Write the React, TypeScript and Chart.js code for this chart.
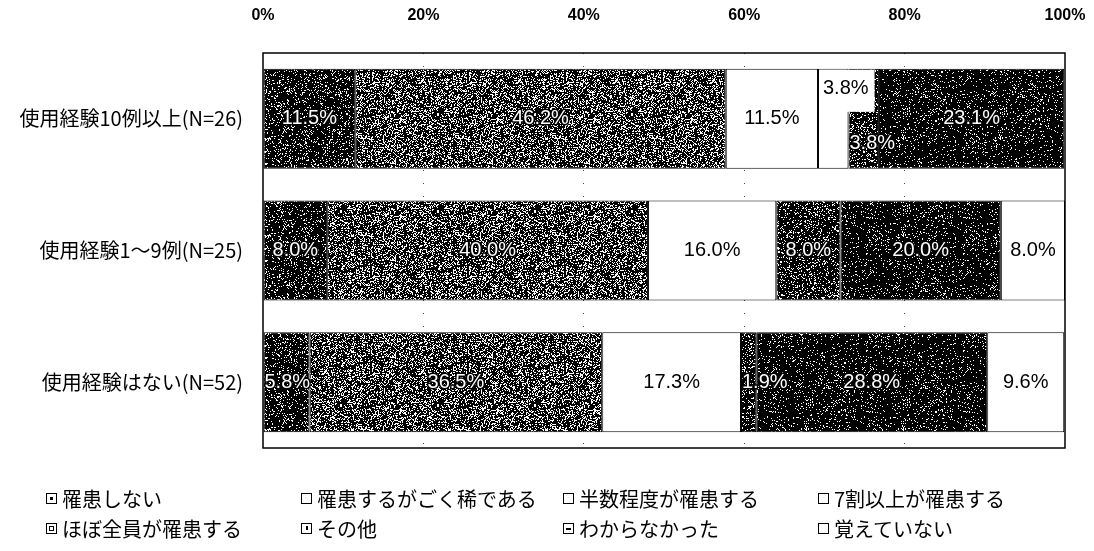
import React, { useEffect, useRef } from 'react';
import { Chart, registerables } from 'chart.js';

Chart.register(...registerables);

const categories = ['使用経験10例以上(N=26)', '使用経験1～9例(N=25)', '使用経験はない(N=52)'];
const seriesNames = [
  '罹患しない',
  '罹患するがごく稀である',
  '半数程度が罹患する',
  '7割以上が罹患する',
  'ほぼ全員が罹患する',
  'その他',
  'わからなかった',
  '覚えていない',
];
const notAffected = [11.5, 8.0, 5.8];
const rarelyAffected = [46.2, 40.0, 36.5];
const halfAffected = [11.5, 16.0, 17.3];
const over70Affected = [3.8, 0, 0];
const nearlyAllAffected = [3.8, 8.0, 1.9];
const otherAnswer = [0, 0, 0];
const unknownAnswer = [23.1, 20.0, 28.8];
const notRemembered = [0, 8.0, 9.6];
const xTickValues = [0, 20, 40, 60, 80, 100];

const seriesValues = [
  notAffected,
  rarelyAffected,
  halfAffected,
  over70Affected,
  nearlyAllAffected,
  otherAnswer,
  unknownAnswer,
  notRemembered,
];
// speckle density per series (0 = white)
const seriesDensity = [0.85, 0.7, 0, 0, 0.82, 0.75, 0.9, 0];

function hash(x: number, y: number, s: number) {
  const v = Math.sin(x * 12.9898 + y * 78.233 + s * 37.719) * 43758.5453;
  return v - Math.floor(v);
}

function makeSpeckle(density: number, seed: number): CanvasPattern | string {
  if (density <= 0) return '#ffffff';
  const size = 97;
  const c = document.createElement('canvas');
  c.width = size;
  c.height = size;
  const g = c.getContext('2d')!;
  const img = g.createImageData(size, size);
  for (let y = 0; y < size; y++) {
    for (let x = 0; x < size; x++) {
      const on = hash(x, y, seed) < density;
      const v = on ? 0 : 255;
      const i = (y * size + x) * 4;
      img.data[i] = v;
      img.data[i + 1] = v;
      img.data[i + 2] = v;
      img.data[i + 3] = 255;
    }
  }
  g.putImageData(img, 0, 0);
  return g.createPattern(c, 'repeat') || '#444';
}

const framePlugin = {
  id: 'frame',
  afterDatasetsDraw(chart: any) {
    const { ctx, chartArea } = chart;
    ctx.save();
    ctx.strokeStyle = '#000';
    ctx.lineWidth = 1.5;
    ctx.strokeRect(chartArea.left, chartArea.top, chartArea.right - chartArea.left, chartArea.bottom - chartArea.top);
    ctx.restore();
  },
};

const labelPlugin = {
  id: 'segLabels',
  afterDatasetsDraw(chart: any) {
    const ctx = chart.ctx;
    ctx.save();
    ctx.font = '20px "Liberation Sans", Arial, sans-serif';
    ctx.textBaseline = 'middle';
    ctx.textAlign = 'center';
    const n = chart.data.labels.length;
    for (let i = 0; i < n; i++) {
      let prevTop = false;
      chart.data.datasets.forEach((ds: any, di: number) => {
        const v = ds.data[i];
        if (!v) return;
        const el = chart.getDatasetMeta(di).data[i];
        const { x, y, base, height } = el.getProps(['x', 'y', 'base', 'height'], true);
        const left = Math.min(x, base);
        const right = Math.max(x, base);
        const w = right - left;
        const text = v.toFixed(1) + '%';
        const tw = ctx.measureText(text).width;
        const dark = seriesDensity[di] > 0;
        let cx = (left + right) / 2;
        let cy = y;
        let top = false;
        if (tw > w - 4) {
          if (!dark) {
            top = true;
            cx = left + tw / 2 + 5;
            cy = y - height * 0.3;
            ctx.fillStyle = '#fff';
            ctx.fillRect(left + 1, y - height / 2 + 1, tw + 10, height * 0.42);
          } else {
            cx = left + tw / 2 + 1;
            if (prevTop) cy = y + height * 0.25;
          }
        }
        if (dark) {
          ctx.lineWidth = 3;
          ctx.strokeStyle = '#000';
          ctx.lineJoin = 'round';
          ctx.strokeText(text, cx, cy);
          ctx.fillStyle = '#fff';
          ctx.fillText(text, cx, cy);
        } else {
          ctx.fillStyle = '#000';
          ctx.fillText(text, cx, cy);
        }
        prevTop = top;
      });
    }
    ctx.restore();
  },
};

const legendCols = [46, 301, 563, 818];
const legendRows = [498, 528];

function LegendIcon({ idx }: { idx: number }) {
  const base: React.CSSProperties = {
    width: 9,
    height: 9,
    border: '1px solid #000',
    background: '#fff',
    position: 'relative',
    display: 'inline-block',
    marginRight: 5,
    flex: '0 0 auto',
  };
  let inner: React.ReactNode = null;
  if (idx === 0) inner = <div style={{ position: 'absolute', left: 3, top: 3, width: 3, height: 3, background: '#000' }} />;
  if (idx === 4) inner = <div style={{ position: 'absolute', left: 2, top: 2, width: 3, height: 3, border: '1px solid #000' }} />;
  if (idx === 5) inner = <div style={{ position: 'absolute', left: 4, top: 2, width: 2, height: 4, background: '#000' }} />;
  if (idx === 6) inner = <div style={{ position: 'absolute', left: 2, top: 4, width: 5, height: 2, background: '#000' }} />;
  return <span style={base}>{inner}</span>;
}

export default function App() {
  const canvasRef = useRef<HTMLCanvasElement | null>(null);

  useEffect(() => {
    const canvas = canvasRef.current;
    if (!canvas) return;
    const datasets = seriesNames.map((name, si) => ({
      label: name,
      data: seriesValues[si],
      backgroundColor: makeSpeckle(seriesDensity[si], si + 3) as any,
      borderColor: '#000',
      borderWidth: 1,
      borderSkipped: false,
      stack: 'all',
      barPercentage: 0.76,
      categoryPercentage: 1.0,
    }));
    const chart = new Chart(canvas, {
      type: 'bar',
      data: { labels: categories, datasets },
      options: {
        indexAxis: 'y',
        responsive: false,
        animation: false,
        devicePixelRatio: 1,
        layout: { padding: { top: 8, right: 29, bottom: 103, left: 0 } },
        plugins: {
          legend: { display: false },
          tooltip: { enabled: false },
        },
        scales: {
          x: {
            position: 'top',
            stacked: true,
            min: 0,
            max: 100,
            afterBuildTicks: (s: any) => {
              s.ticks = xTickValues.map((v) => ({ value: v }));
            },
            afterFit: (s: any) => {
              s.height = 45;
              s.paddingLeft = 0;
              s.paddingRight = 0;
            },
            ticks: {
              padding: 28,
              color: '#000',
              font: { family: '"Liberation Sans Narrow", "Liberation Sans", sans-serif', size: 16, weight: 'bold' },
              callback: (v: any) => v + '%',
            },
            grid: {
              drawTicks: false,
              color: (c: any) => (c.tick && (c.tick.value === 0 || c.tick.value === 100) ? 'rgba(0,0,0,0)' : '#444'),
              lineWidth: 1,
            },
            border: { display: false, dash: [1, 12] },
          },
          y: {
            stacked: true,
            afterFit: (s: any) => {
              s.width = 263;
            },
            ticks: {
              padding: 12,
              color: '#000',
              font: { family: '"Noto Sans CJK JP", sans-serif', size: 20 },
            },
            grid: { display: false },
            border: { display: false },
          },
        },
      } as any,
      plugins: [labelPlugin, framePlugin],
    });
    return () => chart.destroy();
  }, []);

  return (
    <div style={{ position: 'relative', width: 1094, height: 551, background: '#fff' }}>
      <style>{`body{margin:0;background:#fff;}`}</style>
      <canvas ref={canvasRef} width={1094} height={551} style={{ position: 'absolute', left: 0, top: 0 }} />
      {seriesNames.map((name, i) => {
        const col = i % 4;
        const row = Math.floor(i / 4);
        return (
          <div
            key={name}
            style={{
              position: 'absolute',
              left: legendCols[col],
              top: legendRows[row] - 15,
              height: 30,
              display: 'flex',
              alignItems: 'center',
              fontFamily: '"Noto Sans CJK JP", sans-serif',
              fontSize: 20,
              color: '#000',
              whiteSpace: 'nowrap',
            }}
          >
            <LegendIcon idx={i} />
            <span>{name}</span>
          </div>
        );
      })}
    </div>
  );
}
